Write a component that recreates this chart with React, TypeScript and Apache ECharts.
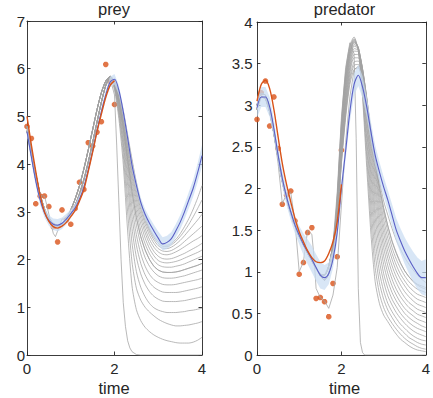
import React, { useEffect, useRef } from 'react';
import * as echarts from 'echarts';

// ---------- ticks ----------
const X_TICKS = [0, 2, 4];
const PREY_Y_TICKS = [0, 1, 2, 3, 4, 5, 6, 7];
const PRED_Y_TICKS = [0, 0.5, 1, 1.5, 2, 2.5, 3, 3.5, 4];

// ---------- time grids ----------
const T_DATA = [0, 0.1, 0.2, 0.3, 0.4, 0.5, 0.6, 0.7, 0.8, 0.9, 1.0, 1.1, 1.2, 1.3, 1.4, 1.5, 1.6, 1.7, 1.8, 1.9, 2.0];
const T_FULL = [0, 0.1, 0.2, 0.3, 0.4, 0.5, 0.6, 0.7, 0.8, 0.9, 1.0, 1.1, 1.2, 1.3, 1.4, 1.5, 1.6, 1.7, 1.8, 1.9, 2.0,
  2.1, 2.2, 2.3, 2.4, 2.5, 2.6, 2.7, 2.8, 2.9, 3.0, 3.1, 3.2, 3.3, 3.4, 3.5, 3.6, 3.7, 3.8, 3.9, 4.0];
const T_EARLY = [0, 0.1, 0.2, 0.3, 0.4, 0.5, 0.6, 0.7, 0.8, 0.9, 1.0, 1.1, 1.2, 1.3, 1.4, 1.5, 1.6, 1.7, 1.8];
const T_TAIL = [1.9, 2.0, 2.1, 2.2, 2.3, 2.4, 2.5, 2.6, 2.7, 2.8, 2.9, 3.0, 3.1, 3.2, 3.3, 3.4, 3.5, 3.6, 3.7, 3.8, 3.9, 4.0];

// ---------- observations ----------
const preyObs = [4.79, 4.54, 3.17, 3.33, 3.33, 3.11, 2.69, 2.37, 3.04, 2.83, 2.74, 3.07, 3.62, 3.47, 4.45, 4.38, 4.67, 4.89, 6.09, 5.72, 5.25];
const predObs = [2.83, 3.15, 3.29, 2.75, 3.10, 2.48, 1.81, 1.92, 1.97, 1.61, 0.97, 1.11, 1.47, 1.53, 0.68, 0.69, 0.64, 0.46, 0.86, 1.18, 2.46];

// ---------- true trajectories (orange) ----------
const preyTrue = [5.0, 4.4, 3.85, 3.35, 3.0, 2.8, 2.69, 2.66, 2.7, 2.78, 2.9, 3.03, 3.23, 3.47, 3.85, 4.25, 4.68, 5.05, 5.4, 5.65, 5.75];
const predTrue = [3.05, 3.25, 3.3, 3.2, 2.95, 2.62, 2.3, 2.05, 1.84, 1.64, 1.48, 1.36, 1.25, 1.17, 1.12, 1.11, 1.13, 1.22, 1.36, 1.6, 2.05];

// ---------- mean (blue) and band half-width ----------
const preyMean = [4.68, 4.15, 3.65, 3.25, 2.98, 2.82, 2.74, 2.72, 2.76, 2.85, 2.96, 3.08, 3.27, 3.52, 3.88, 4.28, 4.7, 5.1, 5.45, 5.72,
  5.78, 5.55, 5.1, 4.55, 3.98, 3.56, 3.2, 2.95, 2.76, 2.6, 2.45, 2.33, 2.36, 2.44, 2.6, 2.78, 3.0, 3.25, 3.5, 3.82, 4.18];
const preyHalf = [0.1, 0.1, 0.1, 0.1, 0.1, 0.11, 0.12, 0.13, 0.12, 0.11, 0.09, 0.08, 0.08, 0.08, 0.08, 0.08, 0.08, 0.09, 0.1, 0.11,
  0.11, 0.1, 0.1, 0.1, 0.1, 0.1, 0.1, 0.11, 0.12, 0.13, 0.14, 0.14, 0.14, 0.14, 0.14, 0.15, 0.16, 0.17, 0.18, 0.2, 0.22];
const predMean = [2.97, 3.1, 3.1, 2.98, 2.72, 2.4, 2.12, 1.9, 1.72, 1.56, 1.44, 1.33, 1.24, 1.15, 1.05, 0.96, 0.93, 0.98, 1.15, 1.47,
  2.0, 2.45, 2.92, 3.25, 3.36, 3.22, 2.98, 2.68, 2.4, 2.2, 2.02, 1.86, 1.68, 1.5, 1.37, 1.25, 1.15, 1.06, 0.98, 0.93, 0.93];
const predHalf = [0.12, 0.12, 0.12, 0.12, 0.11, 0.1, 0.1, 0.1, 0.1, 0.1, 0.11, 0.13, 0.15, 0.16, 0.16, 0.16, 0.15, 0.13, 0.11, 0.1,
  0.1, 0.1, 0.12, 0.13, 0.13, 0.13, 0.12, 0.12, 0.12, 0.12, 0.12, 0.12, 0.13, 0.14, 0.15, 0.16, 0.17, 0.18, 0.19, 0.2, 0.22];

// ---------- gray sample curves: early parts (t 0..1.8) ----------
const preyEarlyA = [4.8, 4.3, 3.8, 3.37, 3.06, 2.87, 2.76, 2.72, 2.74, 2.82, 2.96, 3.14, 3.37, 3.67, 4.04, 4.45, 4.88, 5.3, 5.65];
const preyEarlyB = [4.7, 4.18, 3.68, 3.28, 3.0, 2.8, 2.7, 2.69, 2.75, 2.87, 3.04, 3.27, 3.55, 3.9, 4.3, 4.72, 5.14, 5.5, 5.74];
const predEarlyA = [2.95, 3.1, 3.08, 2.92, 2.66, 2.36, 2.08, 1.87, 1.7, 1.55, 1.42, 1.32, 1.22, 1.13, 1.04, 0.97, 0.96, 1.07, 1.32];
const predEarlyB = [3.0, 3.14, 3.12, 2.96, 2.7, 2.4, 2.12, 1.9, 1.72, 1.57, 1.45, 1.35, 1.25, 1.15, 1.05, 0.95, 0.9, 0.98, 1.2];

// ---------- gray sample curves: tails (t 1.9..4.0) ----------
const preyTails = [
  [5.8, 5.55, 4.95, 4.0, 2.6, 1.45, 0.95, 0.72, 0.58, 0.49, 0.42, 0.37, 0.33, 0.3, 0.28, 0.26, 0.25, 0.25, 0.25, 0.27, 0.31, 0.37],
  [5.82, 5.6, 5.05, 4.2, 3.0, 1.95, 1.4, 1.15, 1.0, 0.9, 0.82, 0.75, 0.7, 0.66, 0.63, 0.61, 0.61, 0.62, 0.63, 0.65, 0.67, 0.7],
  [5.83, 5.62, 5.1, 4.35, 3.3, 2.35, 1.75, 1.42, 1.22, 1.08, 0.99, 0.94, 0.91, 0.89, 0.89, 0.89, 0.9, 0.91, 0.93, 0.94, 0.96, 0.98],
  [5.84, 5.64, 5.15, 4.45, 3.55, 2.65, 2.05, 1.7, 1.48, 1.33, 1.23, 1.17, 1.13, 1.12, 1.12, 1.12, 1.13, 1.14, 1.16, 1.18, 1.2, 1.22],
  [5.84, 5.66, 5.2, 4.55, 3.72, 2.9, 2.3, 1.92, 1.68, 1.52, 1.42, 1.36, 1.32, 1.31, 1.31, 1.31, 1.32, 1.34, 1.36, 1.38, 1.4, 1.43],
  [5.84, 5.67, 5.25, 4.65, 3.88, 3.1, 2.52, 2.12, 1.86, 1.69, 1.58, 1.52, 1.48, 1.47, 1.47, 1.48, 1.5, 1.52, 1.54, 1.56, 1.58, 1.61],
  [5.84, 5.68, 5.28, 4.72, 4.0, 3.28, 2.72, 2.32, 2.04, 1.86, 1.74, 1.66, 1.62, 1.61, 1.61, 1.62, 1.64, 1.66, 1.69, 1.72, 1.75, 1.78],
  [5.84, 5.69, 5.31, 4.78, 4.1, 3.42, 2.88, 2.48, 2.2, 2.0, 1.86, 1.78, 1.74, 1.73, 1.73, 1.74, 1.76, 1.79, 1.82, 1.85, 1.88, 1.92],
  [5.84, 5.7, 5.34, 4.83, 4.18, 3.54, 3.02, 2.62, 2.33, 2.12, 1.98, 1.89, 1.85, 1.84, 1.84, 1.86, 1.88, 1.91, 1.95, 1.99, 2.03, 2.07],
  [5.84, 5.71, 5.37, 4.88, 4.26, 3.65, 3.14, 2.75, 2.45, 2.23, 2.08, 1.98, 1.94, 1.93, 1.94, 1.96, 1.99, 2.03, 2.07, 2.11, 2.15, 2.2],
  [5.84, 5.72, 5.4, 4.93, 4.33, 3.75, 3.25, 2.86, 2.56, 2.33, 2.17, 2.07, 2.02, 2.01, 2.02, 2.05, 2.09, 2.13, 2.18, 2.23, 2.28, 2.34],
  [5.84, 5.72, 5.42, 4.97, 4.4, 3.84, 3.35, 2.96, 2.65, 2.42, 2.26, 2.16, 2.11, 2.1, 2.12, 2.16, 2.21, 2.27, 2.33, 2.39, 2.44, 2.5],
  [5.84, 5.73, 5.44, 5.01, 4.46, 3.92, 3.44, 3.05, 2.74, 2.51, 2.34, 2.23, 2.18, 2.17, 2.19, 2.24, 2.3, 2.38, 2.46, 2.54, 2.62, 2.7],
  [5.84, 5.73, 5.46, 5.05, 4.52, 4.0, 3.52, 3.12, 2.81, 2.58, 2.41, 2.29, 2.24, 2.23, 2.26, 2.32, 2.4, 2.5, 2.61, 2.72, 2.83, 2.95],
  [5.84, 5.74, 5.48, 5.08, 4.57, 4.06, 3.58, 3.18, 2.87, 2.63, 2.46, 2.34, 2.28, 2.27, 2.31, 2.38, 2.48, 2.6, 2.74, 2.9, 3.07, 3.25],
  [5.84, 5.74, 5.5, 5.12, 4.62, 4.1, 3.62, 3.22, 2.91, 2.67, 2.5, 2.38, 2.32, 2.3, 2.34, 2.42, 2.54, 2.69, 2.86, 3.06, 3.29, 3.55],
];
const predTails = [
  [1.9, 2.8, 3.4, 3.72, 3.82, 3.65, 3.1, 2.25, 1.45, 0.88, 0.62, 0.48, 0.4, 0.32, 0.25, 0.19, 0.15, 0.11, 0.08, 0.06, 0.05, 0.04],
  [1.88, 2.76, 3.37, 3.7, 3.8, 3.66, 3.15, 2.38, 1.62, 1.05, 0.74, 0.57, 0.46, 0.38, 0.31, 0.25, 0.2, 0.16, 0.13, 0.1, 0.08, 0.07],
  [1.86, 2.72, 3.34, 3.68, 3.79, 3.67, 3.2, 2.5, 1.78, 1.22, 0.87, 0.67, 0.54, 0.45, 0.37, 0.31, 0.26, 0.21, 0.18, 0.15, 0.13, 0.12],
  [1.84, 2.68, 3.31, 3.66, 3.78, 3.68, 3.25, 2.6, 1.92, 1.38, 1.0, 0.77, 0.62, 0.52, 0.44, 0.37, 0.32, 0.27, 0.23, 0.2, 0.18, 0.17],
  [1.82, 2.64, 3.28, 3.64, 3.77, 3.69, 3.3, 2.7, 2.05, 1.52, 1.13, 0.88, 0.71, 0.6, 0.51, 0.44, 0.38, 0.33, 0.29, 0.26, 0.24, 0.22],
  [1.8, 2.6, 3.24, 3.62, 3.76, 3.69, 3.34, 2.78, 2.16, 1.65, 1.26, 0.98, 0.8, 0.67, 0.58, 0.5, 0.44, 0.39, 0.35, 0.32, 0.3, 0.28],
  [1.78, 2.56, 3.2, 3.6, 3.75, 3.7, 3.38, 2.86, 2.26, 1.76, 1.38, 1.09, 0.89, 0.75, 0.65, 0.57, 0.5, 0.45, 0.41, 0.38, 0.35, 0.33],
  [1.76, 2.52, 3.16, 3.57, 3.73, 3.69, 3.41, 2.93, 2.36, 1.87, 1.49, 1.19, 0.98, 0.83, 0.72, 0.63, 0.56, 0.51, 0.47, 0.43, 0.41, 0.39],
  [1.74, 2.48, 3.12, 3.54, 3.71, 3.68, 3.43, 2.99, 2.45, 1.97, 1.59, 1.29, 1.07, 0.91, 0.79, 0.7, 0.63, 0.57, 0.53, 0.49, 0.47, 0.45],
  [1.72, 2.45, 3.08, 3.5, 3.68, 3.66, 3.44, 3.04, 2.53, 2.06, 1.68, 1.38, 1.16, 0.99, 0.87, 0.77, 0.69, 0.63, 0.59, 0.55, 0.53, 0.51],
  [1.7, 2.42, 3.04, 3.46, 3.65, 3.64, 3.44, 3.07, 2.6, 2.15, 1.77, 1.47, 1.24, 1.07, 0.94, 0.84, 0.76, 0.7, 0.65, 0.61, 0.59, 0.57],
  [1.68, 2.39, 3.0, 3.42, 3.61, 3.61, 3.43, 3.09, 2.65, 2.22, 1.85, 1.55, 1.32, 1.15, 1.01, 0.91, 0.83, 0.76, 0.71, 0.67, 0.65, 0.63],
  [1.66, 2.36, 2.96, 3.38, 3.57, 3.57, 3.41, 3.09, 2.68, 2.28, 1.92, 1.63, 1.4, 1.22, 1.08, 0.97, 0.89, 0.82, 0.77, 0.73, 0.71, 0.69],
  [1.64, 2.33, 2.92, 3.33, 3.52, 3.53, 3.38, 3.07, 2.69, 2.32, 1.98, 1.71, 1.48, 1.29, 1.15, 1.04, 0.95, 0.88, 0.83, 0.79, 0.77, 0.75],
  [1.62, 2.31, 2.88, 3.29, 3.48, 3.49, 3.34, 3.04, 2.68, 2.35, 2.03, 1.77, 1.55, 1.36, 1.22, 1.1, 1.01, 0.94, 0.89, 0.85, 0.83, 0.81],
  [1.6, 2.3, 2.85, 3.25, 3.43, 3.45, 3.3, 3.0, 2.65, 2.38, 2.1, 1.85, 1.68, 1.52, 1.38, 1.27, 1.17, 1.09, 1.02, 0.96, 0.91, 0.87],
];

// ---------- crash curves ----------
const preyCrashT = [1.9, 2.0, 2.05, 2.1, 2.15, 2.2, 2.25, 2.3, 2.35, 2.4, 2.5, 2.6, 3.0, 3.5, 4.0];
const preyCrashV = [5.8, 5.45, 4.4, 3.2, 2.0, 1.1, 0.6, 0.3, 0.15, 0.07, 0.01, 0, 0, 0, 0];
const predCrashT = [1.9, 2.0, 2.1, 2.2, 2.3, 2.35, 2.4, 2.45, 2.5, 2.55, 3.0, 3.5, 4.0];
const predCrashV = [1.95, 2.85, 3.45, 3.75, 3.62, 2.6, 0.8, 0.15, 0.03, 0, 0, 0, 0];

// ---------- jagged curves ----------
const preyJagT = [0, 0.1, 0.2, 0.25, 0.3, 0.4, 0.45, 0.5, 0.6, 0.65, 0.7, 0.8, 0.9, 1.0, 1.1, 1.2, 1.3, 1.4, 1.5, 1.6, 1.7, 1.8];
const preyJagV = [4.75, 4.3, 3.75, 3.42, 3.34, 3.33, 3.15, 2.95, 2.55, 2.48, 2.6, 2.85, 2.85, 2.95, 3.12, 3.4, 3.7, 4.05, 4.45, 4.88, 5.3, 5.65];
const predJagT = [0, 0.1, 0.2, 0.3, 0.4, 0.5, 0.6, 0.7, 0.8, 0.9, 1.0, 1.1, 1.2, 1.3, 1.35, 1.4, 1.5, 1.6, 1.7, 1.8, 1.9, 2.0,
  2.1, 2.2, 2.3, 2.4, 2.5, 2.6, 2.7, 2.8, 2.9, 3.0, 3.1, 3.2, 3.3, 3.4, 3.5, 3.6, 3.7, 3.8, 3.9, 4.0];
const predJagV = [2.95, 3.1, 3.08, 2.92, 2.66, 2.3, 1.82, 1.93, 1.95, 1.6, 1.0, 1.12, 1.5, 1.45, 1.18, 0.8, 0.69, 0.65, 0.56, 0.72, 1.05, 1.8,
  2.55, 3.1, 3.42, 3.47, 3.33, 3.03, 2.67, 2.33, 2.02, 1.76, 1.55, 1.37, 1.23, 1.11, 1.01, 0.94, 0.88, 0.84, 0.81, 0.79];

// ---------- styles ----------
const ORANGE = '#D95319';
const BLUE = '#5a5fc6';
const GRAY = '#a2a2a2';
const BAND = '#c9dcf2';
const AX = '#262626';
const TXT = '#262626';
const FONT = '"Liberation Sans", Arial, Helvetica, sans-serif';
const ASTERISK = 'path://M0,-10L0,10M-10,0L10,0M-7,-7L7,7M-7,7L7,-7';

function pairs(ts: number[], vs: number[]) {
  return ts.map((t, i) => [t, vs[i]]);
}

function buildPanel(xi: number, yi: number, obs: number[], truth: number[], mean: number[], half: number[],
  earlyA: number[], earlyB: number[], tails: number[][], crashT: number[], crashV: number[], jagT: number[], jagV: number[],
  jagTail: number[] | null) {
  const series: any[] = [];
  series.push({
    type: 'scatter', xAxisIndex: xi, yAxisIndex: yi, z: 1, silent: true,
    symbol: ASTERISK, symbolSize: 5.5,
    itemStyle: { color: ORANGE, borderColor: ORANGE, borderWidth: 1.9 },
    data: pairs(T_DATA, obs),
  });
  const grayLine = (data: number[][], smooth: number | boolean) => ({
    type: 'line', xAxisIndex: xi, yAxisIndex: yi, z: 2, silent: true,
    showSymbol: false, symbol: 'none', smooth,
    lineStyle: { color: GRAY, width: 0.75 },
    data,
  });
  tails.forEach((tail, k) => {
    const early = k % 2 === 0 ? earlyA : earlyB;
    series.push(grayLine(pairs(T_EARLY, early).concat(pairs(T_TAIL, tail)), 0.25));
  });
  series.push(grayLine(pairs(T_EARLY, earlyA).concat(pairs(crashT, crashV)), false));
  let jag = pairs(jagT, jagV);
  if (jagTail) jag = jag.concat(pairs(T_TAIL, jagTail));
  series.push(grayLine(jag, false));
  series.push({
    type: 'custom', xAxisIndex: xi, yAxisIndex: yi, z: 3, silent: true,
    data: [[0, 0]],
    encode: { x: 0, y: 1 },
    renderItem: (_p: any, api: any) => {
      const up = T_FULL.map((t, i) => api.coord([t, mean[i] + half[i]]));
      const lo = T_FULL.map((t, i) => api.coord([t, mean[i] - half[i]])).reverse();
      return { type: 'polygon', shape: { points: up.concat(lo) }, style: { fill: BAND, opacity: 0.72 } };
    },
  });
  series.push({
    type: 'line', xAxisIndex: xi, yAxisIndex: yi, z: 4, silent: true,
    showSymbol: false, symbol: 'none', smooth: 0.3,
    lineStyle: { color: BLUE, width: 1.1 },
    data: pairs(T_FULL, mean),
  });
  series.push({
    type: 'line', xAxisIndex: xi, yAxisIndex: yi, z: 5, silent: true,
    showSymbol: false, symbol: 'none', smooth: 0.3,
    lineStyle: { color: ORANGE, width: 1.4 },
    data: pairs(T_DATA, truth),
  });
  return series;
}

function axisBase(ticks: number[], gridIndex: number, position: string, labels: boolean, margin: number) {
  return {
    type: 'value', gridIndex, position,
    min: ticks[0], max: ticks[ticks.length - 1], interval: ticks[1] - ticks[0],
    axisLine: { show: true, onZero: false, lineStyle: { color: AX, width: 0.9 } },
    axisTick: { show: true, inside: true, length: 3.5, lineStyle: { color: AX, width: 0.9 } },
    axisLabel: { show: labels, fontSize: 15, color: TXT, fontFamily: FONT, margin },
    splitLine: { show: false },
  };
}

export default function App() {
  const ref = useRef<HTMLDivElement>(null);
  useEffect(() => {
    const chart = echarts.init(ref.current!, null, { renderer: 'svg' });
    const option: any = {
      animation: false,
      backgroundColor: '#ffffff',
      grid: [
        { left: 27, top: 21, width: 175, height: 334 },
        { left: 257, top: 22, width: 175, height: 333 },
      ],
      xAxis: [
        axisBase(X_TICKS, 0, 'bottom', true, 6),
        axisBase(X_TICKS, 0, 'top', false, 6),
        axisBase(X_TICKS, 1, 'bottom', true, 6),
        axisBase(X_TICKS, 1, 'top', false, 6),
      ],
      yAxis: [
        axisBase(PREY_Y_TICKS, 0, 'left', true, 2),
        axisBase(PREY_Y_TICKS, 0, 'right', false, 2),
        axisBase(PRED_Y_TICKS, 1, 'left', true, 4.5),
        axisBase(PRED_Y_TICKS, 1, 'right', false, 4.5),
      ],
      graphic: [
        { type: 'text', x: 114, y: 9, style: { text: 'prey', fill: TXT, font: '16.5px ' + FONT, textAlign: 'center', textVerticalAlign: 'middle', align: 'center', verticalAlign: 'middle' } },
        { type: 'text', x: 344.5, y: 9, style: { text: 'predator', fill: TXT, font: '16.5px ' + FONT, textAlign: 'center', textVerticalAlign: 'middle', align: 'center', verticalAlign: 'middle' } },
        { type: 'text', x: 114, y: 388, style: { text: 'time', fill: TXT, font: '16.5px ' + FONT, textAlign: 'center', textVerticalAlign: 'middle', align: 'center', verticalAlign: 'middle' } },
        { type: 'text', x: 344.5, y: 388, style: { text: 'time', fill: TXT, font: '16.5px ' + FONT, textAlign: 'center', textVerticalAlign: 'middle', align: 'center', verticalAlign: 'middle' } },
      ],
      series: [
        ...buildPanel(0, 0, preyObs, preyTrue, preyMean, preyHalf, preyEarlyA, preyEarlyB, preyTails,
          preyCrashT, preyCrashV, preyJagT, preyJagV, preyTails[7]),
        ...buildPanel(2, 2, predObs, predTrue, predMean, predHalf, predEarlyA, predEarlyB, predTails,
          predCrashT, predCrashV, predJagT, predJagV, null),
      ],
    };
    chart.setOption(option);
    return () => chart.dispose();
  }, []);
  return <div ref={ref} style={{ position: 'fixed', left: 0, top: 0, width: 433, height: 398 }} />;
}
